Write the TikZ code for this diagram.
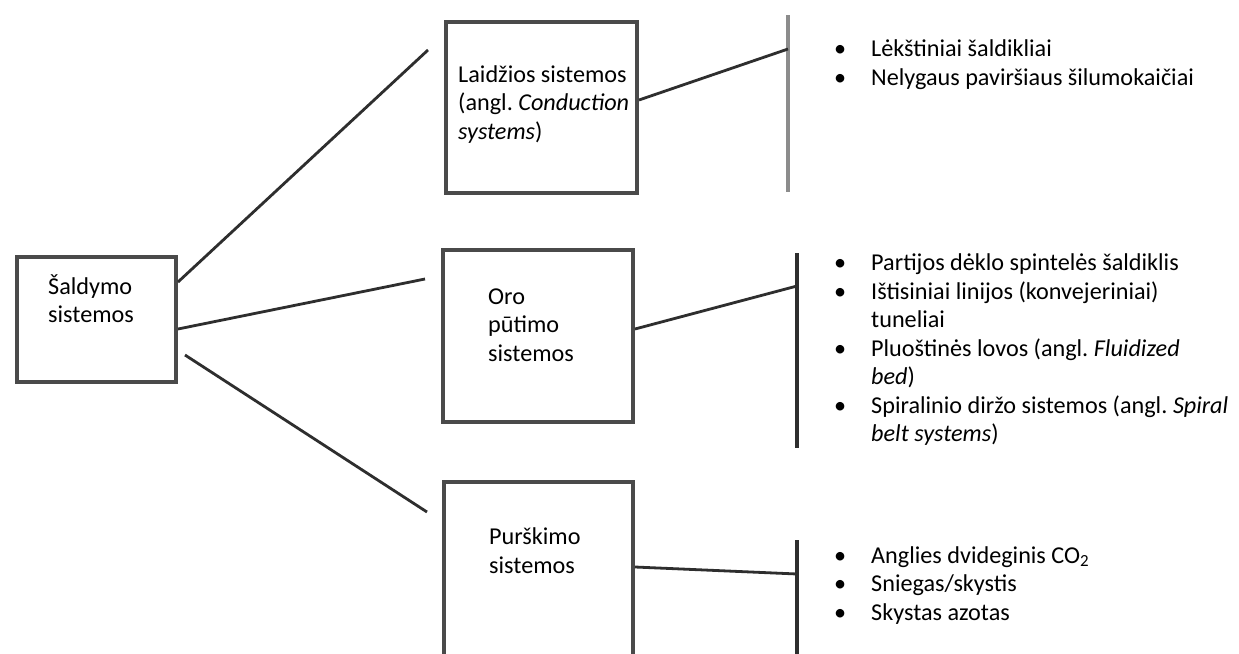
\documentclass[tikz,border=0pt]{standalone}
\usepackage{fontspec}
\setmainfont{Carlito}
\definecolor{boxgray}{HTML}{4A4A4A}
\definecolor{linegray}{HTML}{2E2E2E}
\definecolor{lightbar}{HTML}{8C8C8C}
\newcommand\itemdot{\makebox[37pt][l]{•}}
\newcommand\itemgap{\hspace*{37pt}}
\begin{document}
\begin{tikzpicture}[x=1pt,y=-1pt,
  box/.style={draw=boxgray, line width=4pt, inner sep=0pt, anchor=north west},
  link/.style={draw=linegray, line width=2.8pt},
  barline/.style={draw=linegray, line width=4pt},
  % multi-line labels are placed by the baseline of their last line
  lbl/.style={anchor=base west, inner sep=0pt, align=left,
              font=\fontsize{24.2}{28.5}\selectfont},
]
\useasboundingbox (0,0) rectangle (1239,653);
\clip (0,0) rectangle (1239,653);
\fill[white] (0,0) rectangle (1239,653);

% boxes
\node[box, minimum width=159pt, minimum height=125pt] (src) at (15,255) {};
\node[box, minimum width=191pt, minimum height=171pt] (cond) at (444,20) {};
\node[box, minimum width=190pt, minimum height=172pt] (blast) at (441,248) {};
\node[box, minimum width=189pt, minimum height=220pt] (spray) at (442,480) {};

% box texts
\node[lbl] (tsrc) at (48,322.5) {Šaldymo\\sistemos};
\node[lbl] (tcond) at (458,139) {Laidžios sistemos\\(angl.\ \textit{Conduction}\\\textit{systems})};
\node[lbl] (tblast) at (488,361) {Oro\\pūtimo\\sistemos};
\node[lbl] (tspray) at (489,573) {Purškimo\\sistemos};

% vertical bars
\coordinate (b1t) at (788,15);  \coordinate (b1b) at (788,192);
\coordinate (b2t) at (797,253); \coordinate (b2b) at (797,448);
\coordinate (b3t) at (797,540); \coordinate (b3b) at (797,660);
\draw[line width=3.5pt, draw=lightbar] (b1t) -- (b1b);
\draw[barline] (b2t) -- (b2b);
\draw[barline] (b3t) -- (b3b);

% junctions on the bars and free ends near the boxes
\coordinate (j1) at (788,49);
\coordinate (j2) at (797,286);
\coordinate (j3) at (797,574);
\coordinate (e1) at (428,50);
\coordinate (e2) at (425,279);
\coordinate (e3) at (427,512);

% connectors
\draw[link] ([yshift=37.5pt]src.east) -- (e1);
\draw[link] ([yshift=-9.5pt]src.east) -- (e2);
\draw[link] ([xshift=7pt,yshift=-35.5pt]src.east) -- (e3);
\draw[link] ([yshift=7.5pt]cond.east) -- (j1);
\draw[link] ([yshift=7pt]blast.east) -- (j2);
\draw[link] ([yshift=-87pt]spray.north east) -- (j3);

% lists
\node[lbl] (list1) at (834,85) {\itemdot Lėkštiniai šaldikliai\\
\itemdot Nelygaus paviršiaus šilumokaičiai};
\node[lbl] (list2) at (834,441.5) {\itemdot Partijos dėklo spintelės šaldiklis\\
\itemdot Ištisiniai linijos (konvejeriniai)\\
\itemgap tuneliai\\
\itemdot Pluoštinės lovos (angl.\ \textit{Fluidized}\\
\itemgap\textit{bed})\\
\itemdot Spiralinio diržo sistemos (angl.\ \textit{Spiral}\\
\itemgap\textit{belt systems})};
\node[lbl] (list3) at (834,620) {\itemdot Anglies dvideginis CO\textsubscript{2}\\
\itemdot Sniegas/skystis\\
\itemdot Skystas azotas};
\end{tikzpicture}
\end{document}
